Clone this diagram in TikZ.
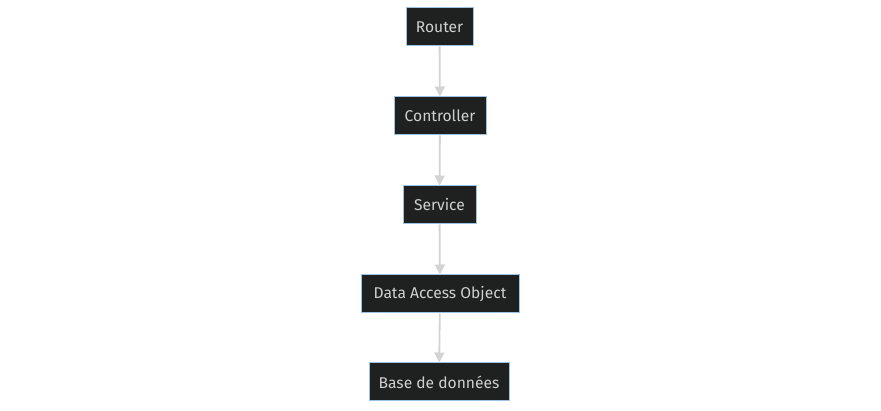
\documentclass[tikz,border=0pt]{standalone}
\usepackage{fontspec}
\setmainfont{Fira Sans}
\usetikzlibrary{arrows.meta}
\definecolor{boxfill}{HTML}{1F2020}
\definecolor{boxline}{HTML}{9CC3E6}
\definecolor{txt}{HTML}{D0D0D0}
\definecolor{edge}{HTML}{D3D3D3}
\begin{document}
\begin{tikzpicture}[x=1pt,y=-1pt,
  box/.style={draw=boxline,fill=boxfill,text=txt,line width=1pt,inner sep=0pt,font=\fontsize{15.6}{18}\selectfont},
  link/.style={draw=edge,line width=1.8pt,-{Triangle[length=10pt,width=10pt]}}]
\useasboundingbox (0,0) rectangle (881,411);
\node[box,minimum width=67pt,minimum height=38pt] (r) at (439.5,27) {Router};
\node[box,minimum width=92pt,minimum height=38pt] (c) at (440,116) {Controller};
\node[box,minimum width=73pt,minimum height=38pt] (s) at (439.5,205) {Service};
\node[box,minimum width=158pt,minimum height=38pt] (d) at (440,294) {Data Access Object};
\node[box,minimum width=140pt,minimum height=38pt] (b) at (439,382) {Base de données};
\draw[link] (r) -- (c);
\draw[link] (c) -- (s);
\draw[link] (s) -- (d);
\draw[link] (d) -- (b);
\end{tikzpicture}
\end{document}
